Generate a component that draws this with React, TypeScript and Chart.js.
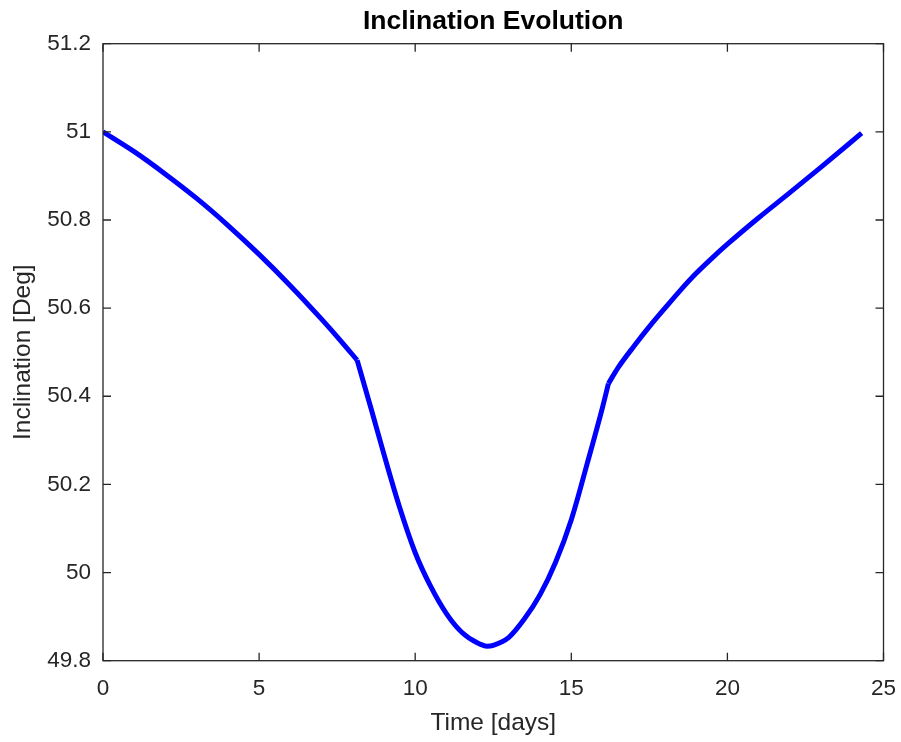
import React, { useEffect, useRef } from "react";
import { Chart, registerables } from "chart.js";

Chart.register(...registerables);

// Data (three phases of the manoeuvre)
const phase1Time = [0, 1.0, 2.0, 3.0, 4.0, 5.0, 6.0, 7.0, 7.6, 8.14];
const phase1Incl = [51.0, 50.955, 50.904, 50.849, 50.788, 50.722, 50.651, 50.575, 50.527, 50.482];

const phase2Time = [8.14, 8.6, 9.0, 9.5, 10.0, 10.5, 11.0, 11.5, 12.0, 12.3, 12.5, 13.0, 13.5, 14.0, 14.5, 15.0, 15.5, 16.0, 16.19];
const phase2Incl = [50.482, 50.369, 50.268, 50.148, 50.045, 49.968, 49.907, 49.864, 49.84, 49.833, 49.835, 49.853, 49.895, 49.95, 50.024, 50.12, 50.245, 50.375, 50.429];

const phase3Time = [16.19, 16.5, 17.0, 17.5, 18.0, 18.5, 19.0, 19.5, 20.0, 21.0, 22.0, 23.0, 24.3];
const phase3Incl = [50.429, 50.465, 50.513, 50.558, 50.6, 50.641, 50.679, 50.713, 50.745, 50.805, 50.862, 50.92, 50.997];

const xTickValues = [0, 5, 10, 15, 20, 25];
const xTickLabels = ["0", "5", "10", "15", "20", "25"];
const yTickValues = [49.8, 50.0, 50.2, 50.4, 50.6, 50.8, 51.0, 51.2];
const yTickLabels = ["49.8", "50", "50.2", "50.4", "50.6", "50.8", "51", "51.2"];

const chartTitle = "Inclination Evolution";
const xTitle = "Time [days]";
const yTitle = "Inclination [Deg]";

const FONT = "'Liberation Sans', Arial, Helvetica, sans-serif";
const AXIS_COLOR = "#262626";
const LINE_COLOR = "#0000FF";

const framePlugin = {
  id: "matlabFrame",
  afterDatasetsDraw(chart: any) {
    const { ctx, chartArea: a, scales } = chart;
    ctx.save();
    ctx.strokeStyle = AXIS_COLOR;
    ctx.lineWidth = 1.3;
    ctx.strokeRect(a.left, a.top, a.right - a.left, a.bottom - a.top);
    const len = 8;
    ctx.beginPath();
    for (const v of xTickValues) {
      const px = scales.x.getPixelForValue(v);
      ctx.moveTo(px, a.bottom);
      ctx.lineTo(px, a.bottom - len);
      ctx.moveTo(px, a.top);
      ctx.lineTo(px, a.top + len);
    }
    for (const v of yTickValues) {
      const py = scales.y.getPixelForValue(v);
      ctx.moveTo(a.left, py);
      ctx.lineTo(a.left + len, py);
      ctx.moveTo(a.right, py);
      ctx.lineTo(a.right - len, py);
    }
    ctx.stroke();
    ctx.restore();
  },
};

function makeDataset(times: number[], values: number[]) {
  return {
    data: times.map((t, i) => ({ x: t, y: values[i] })),
    borderColor: LINE_COLOR,
    backgroundColor: LINE_COLOR,
    borderWidth: 5,
    pointRadius: 0,
    fill: false,
    cubicInterpolationMode: "monotone",
    borderJoinStyle: "round",
  };
}

export default function App() {
  const canvasRef = useRef<HTMLCanvasElement | null>(null);

  useEffect(() => {
    const canvas = canvasRef.current;
    if (!canvas) return;
    const chart = new Chart(canvas, {
      type: "line",
      data: {
        datasets: [
          makeDataset(phase1Time, phase1Incl),
          makeDataset(phase2Time, phase2Incl),
          makeDataset(phase3Time, phase3Incl),
        ],
      } as any,
      options: {
        animation: false,
        responsive: false,
        devicePixelRatio: 1,
        layout: { padding: { left: 0, right: 17.5, top: 0, bottom: 0 } },
        plugins: {
          legend: { display: false },
          tooltip: { enabled: false },
          title: { display: false },
        },
        scales: {
          x: {
            type: "linear",
            position: "bottom",
            min: 0,
            max: 25,
            afterBuildTicks: (s: any) => {
              s.ticks = xTickValues.map((v) => ({ value: v }));
            },
            afterFit: (s: any) => {
              s.height = 81.3;
              s.paddingLeft = 0;
              s.paddingRight = 0;
            },
            grid: { display: false, drawTicks: false, tickLength: 0 },
            border: { display: false },
            ticks: {
              color: AXIS_COLOR,
              font: { family: FONT, size: 22.5, lineHeight: 1.2 },
              padding: 15,
              maxRotation: 0,
              autoSkip: false,
              callback: (_v: any, i: number) => xTickLabels[i],
            },
            title: {
              display: true,
              text: xTitle,
              color: AXIS_COLOR,
              font: { family: FONT, size: 24.5, lineHeight: 1 },
              padding: { top: 0, bottom: 6.5 },
            },
          },
          x2: {
            type: "linear",
            position: "top",
            min: 0,
            max: 25,
            afterFit: (s: any) => {
              s.height = 43.7;
              s.paddingLeft = 0;
              s.paddingRight = 0;
            },
            grid: { display: false, drawTicks: false, tickLength: 0 },
            border: { display: false },
            ticks: { display: false },
            title: {
              display: true,
              text: chartTitle,
              color: "#000000",
              font: { family: FONT, size: 26.5, weight: "bold", lineHeight: 1 },
              padding: { top: 8.5, bottom: 0 },
            },
          },
          y: {
            type: "linear",
            position: "left",
            min: 49.8,
            max: 51.2,
            afterBuildTicks: (s: any) => {
              s.ticks = yTickValues.map((v) => ({ value: v }));
            },
            afterFit: (s: any) => {
              s.width = 103;
              s.paddingTop = 0;
              s.paddingBottom = 0;
            },
            grid: { display: false, drawTicks: false, tickLength: 0 },
            border: { display: false },
            ticks: {
              color: AXIS_COLOR,
              font: { family: FONT, size: 22.5, lineHeight: 1.2 },
              padding: 12,
              autoSkip: false,
              callback: (_v: any, i: number) => yTickLabels[i],
            },
            title: {
              display: true,
              text: yTitle,
              color: AXIS_COLOR,
              font: { family: FONT, size: 24.5, lineHeight: 1 },
              padding: { top: 10.75, bottom: 0 },
            },
          },
        },
      } as any,
      plugins: [framePlugin],
    });
    return () => chart.destroy();
  }, []);

  return (
    <div
      style={{
        position: "fixed",
        left: 0,
        top: 0,
        width: 901,
        height: 742,
        background: "#ffffff",
      }}
    >
      <canvas ref={canvasRef} width={901} height={742} style={{ display: "block" }} />
    </div>
  );
}
